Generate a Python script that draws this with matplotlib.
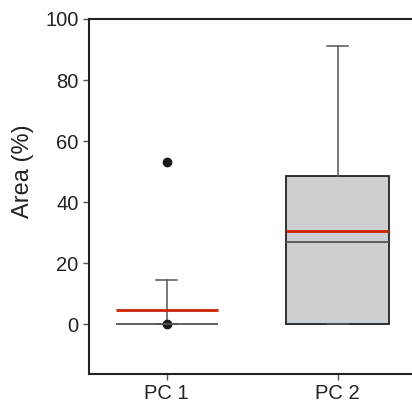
import matplotlib
matplotlib.use('Agg')
import matplotlib.pyplot as plt

plt.rcParams['font.family'] = ['Liberation Sans', 'DejaVu Sans']

labels = ['PC 1', 'PC 2']
medians = [0.0, 26.8]
means = [4.7, 30.4]
q1s = [0.0, 0.0]
q3s = [0.0, 48.6]
whislo = [0.0, 0.0]
whishi = [14.4, 91.3]
outliers = [[53.0, 0.0], []]
box_colors = ['white', '#cdd0d3']

stats = []
for i in range(len(labels)):
    stats.append({'label': labels[i], 'med': medians[i], 'mean': means[i],
                  'q1': q1s[i], 'q3': q3s[i], 'whislo': whislo[i],
                  'whishi': whishi[i], 'fliers': outliers[i]})

fig = plt.figure(figsize=(4.12, 4.04), dpi=100)
ax = fig.add_axes([89 / 412, 30 / 404, 323 / 412, 355 / 404])

bp = ax.bxp(stats, positions=[1, 2], widths=0.6, patch_artist=True,
            showmeans=True, meanline=True,
            boxprops={'edgecolor': '#222222', 'linewidth': 1.3},
            medianprops={'color': '#555555', 'linewidth': 1.3},
            meanprops={'color': '#cc2200', 'linestyle': '-', 'linewidth': 2},
            whiskerprops={'color': '#555555', 'linewidth': 1.1},
            capprops={'color': '#555555', 'linewidth': 1.1},
            capwidths=0.125,
            flierprops={'marker': 'o', 'markerfacecolor': '#1a1a1a',
                        'markeredgecolor': '#1a1a1a', 'markersize': 6})
for patch, c in zip(bp['boxes'], box_colors):
    patch.set_facecolor(c)
bp['boxes'][0].set_edgecolor('none')

ymin, ymax = -16.3, 100
ax.set_xlim(0.545, 2.434)
ax.set_ylim(ymin, ymax)
ax.set_yticks([0, 20, 40, 60, 80, 100])
ax.spines['right'].set_visible(False)
for s in ['left', 'top', 'bottom']:
    ax.spines[s].set_linewidth(1.5)
    ax.spines[s].set_color('#222222')
ax.tick_params(labelsize=14.5, length=4, width=1, color='#555555', labelcolor='#222222')
ax.set_ylabel('Area (%)', fontsize=17, color='#222222')
# label is centred on the 0-100 range, not on the whole axis
ax.yaxis.set_label_coords(-0.17, (50 - ymin) / (ymax - ymin))

fig.savefig('out.png', dpi=100)
